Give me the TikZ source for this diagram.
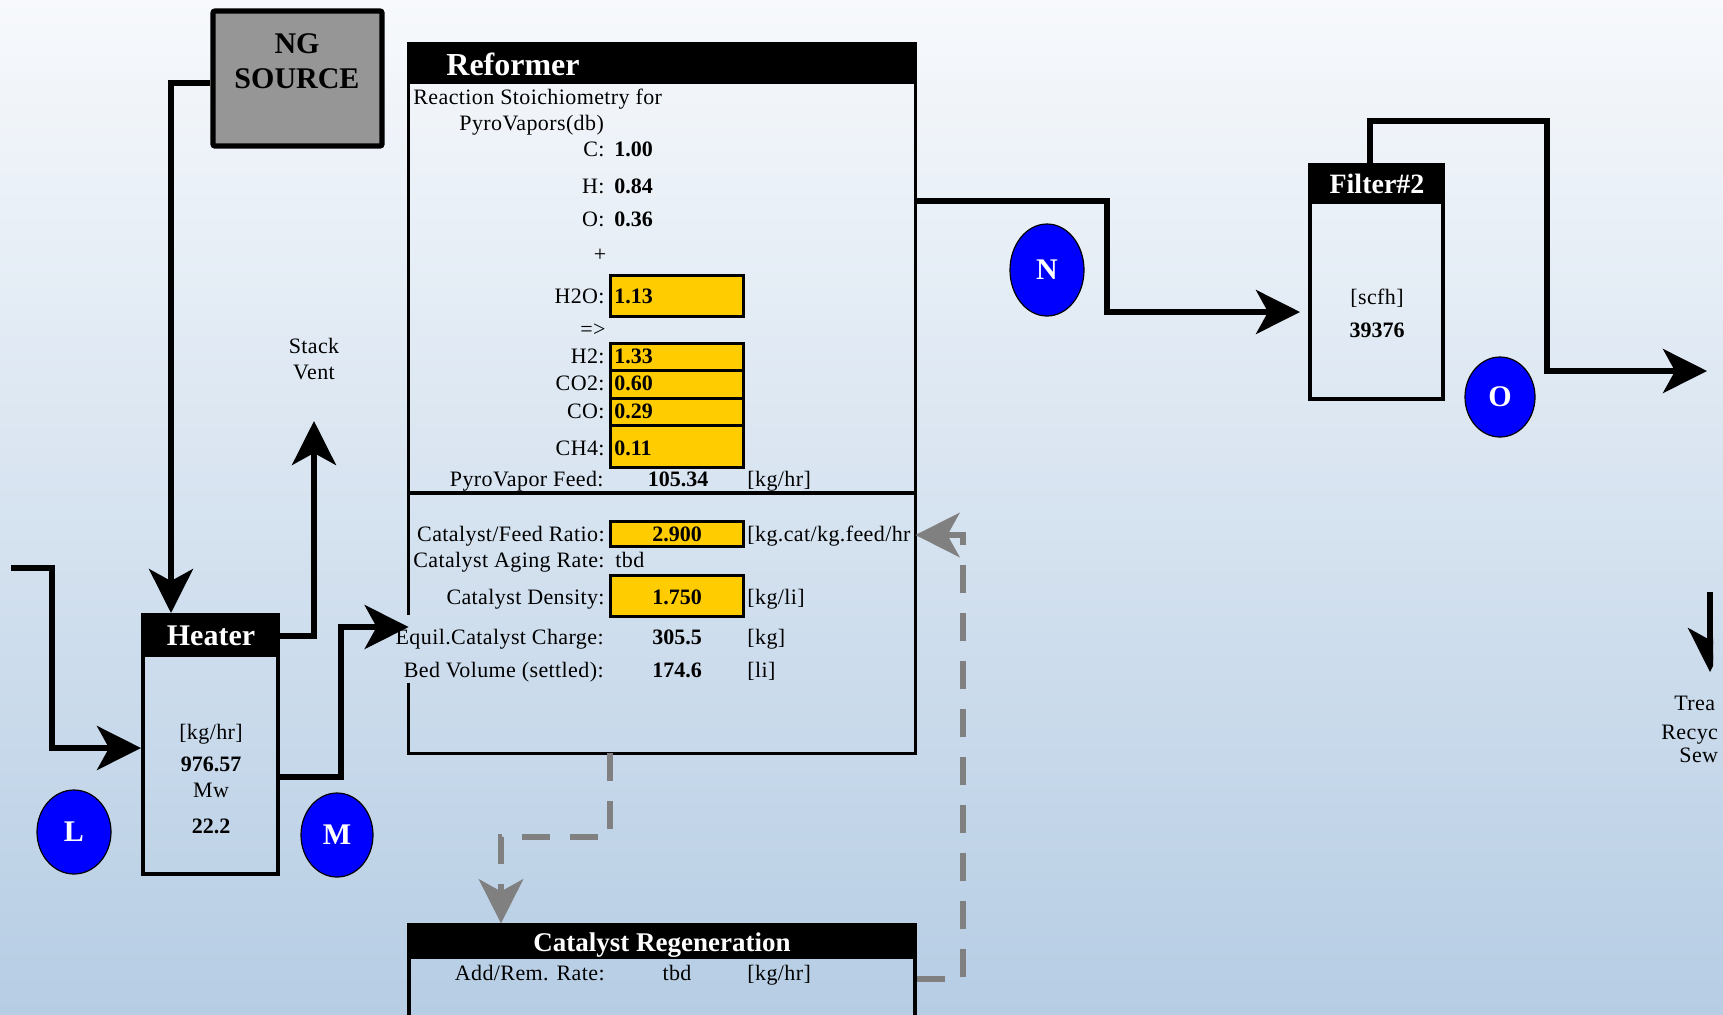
\documentclass[tikz,border=0pt]{standalone}
\usepackage{fontspec}
\setmainfont{Liberation Serif}
\newfontfamily\spacedserif[LetterSpace=1.8]{Liberation Serif}
\usepackage{xcolor}
\usepackage{tikz}
\usetikzlibrary{arrows.meta,fit,shapes.geometric}

\definecolor{bgtop}{HTML}{F7F9FC}
\definecolor{bgbottom}{HTML}{B6CDE4}
\definecolor{cellyellow}{HTML}{FFCC00}
\definecolor{nggrey}{HTML}{969696}
\definecolor{dashgrey}{HTML}{808080}
\definecolor{tagblue}{HTML}{0000FF}

\tikzset{
    flow/.style={line width=2.6pt, -{Stealth[length=22pt,width=22pt,inset=6pt]}},
    catflow/.style={draw=dashgrey, line width=3.4pt, dash pattern=on 14pt off 10pt,
        -{Stealth[length=22pt,width=22pt,inset=6pt]}},
    unit/.style={draw, line width=2pt, inner sep=0pt},
    header/.style={fill=black, inner sep=0pt},
    headtext/.style={text=white, inner sep=0pt, font=\fontsize{15}{15}\selectfont\bfseries},
    tag/.style={ellipse, draw, line width=0.6pt, fill=tagblue, text=white, inner sep=0pt,
        font=\fontsize{15}{15}\selectfont\bfseries},
    cell/.style={draw, fill=cellyellow, line width=1.5pt, inner sep=0pt},
    lbl/.style={inner sep=0pt, font=\fontsize{11}{13}\spacedserif},
    val/.style={inner sep=0pt, font=\fontsize{11}{13}\selectfont\bfseries},
}

\begin{document}
\begin{tikzpicture}[x=0.5pt,y=-0.5pt]
    \clip (0,0) rectangle (1723,1014);
    \shade[top color=bgtop, bottom color=bgbottom] (0,0) rectangle (1723,1014);

    % units
    \node [unit, fill=nggrey, line width=2.6pt, rounded corners=1pt, fit={(213,11) (382,146)}] (ng) {};
    \node [headtext, text=black, anchor=base] (ngname) at (297,53) {NG};
    \node [headtext, text=black, anchor=base] (ngsource) at (297,88) {SOURCE};

    \node [unit, fit={(143,615) (278,874)}] (heater) {};
    \node [header, fit={(143,615) (278,657)}] (heaterhead) {};
    \node [headtext, anchor=base] (heatertitle) at (211,645) {Heater};
    \node [lbl, anchor=base] (heaterunit) at (211,739) {[kg/hr]};
    \node [val, anchor=base] (heaterflow) at (211,771) {976.57};
    \node [lbl, anchor=base] (heatermw) at (211,797) {Mw};
    \node [val, anchor=base] (heatermwval) at (211,833) {22.2};

    \node [inner sep=0pt, fit={(409,44) (915,753)}] (reformer) {};
    \draw [line width=1.6pt] (reformer.west |- 0,615) -- (reformer.north west) -- (reformer.north east)
        -- (reformer.south east) -- (reformer.south west) -- (reformer.west |- 0,683);
    \node [header, fit={(409,44) (915,84)}] (reformerhead) {};
    \node [headtext, font=\fontsize{16}{16}\selectfont\bfseries, anchor=base west] (reformertitle) at (446,75) {Reformer};
    \draw [line width=1.6pt] (reformer.west |- 0,493) -- (reformer.east |- 0,493);

    \node [lbl, anchor=base west] (stoich) at (413,104) {Reaction Stoichiometry for};
    \node [lbl, anchor=base west] (pyro) at (459,130) {PyroVapors(db)};
    \node [lbl, anchor=base east] (cname) at (605,156) {C:};
    \node [val, anchor=base west] (cval) at (614,156) {1.00};
    \node [lbl, anchor=base east] (hname) at (605,193) {H:};
    \node [val, anchor=base west] (hval) at (614,193) {0.84};
    \node [lbl, anchor=base east] (oname) at (605,226) {O:};
    \node [val, anchor=base west] (oval) at (614,226) {0.36};
    \node [lbl, anchor=base] (plus) at (600,261) {+};

    \node [cell, fit={(610,275) (743,316)}] (h2ocell) {};
    \node [cell, fit={(610,343) (743,370)}] (h2cell) {};
    \node [cell, fit={(610,370) (743,398)}] (co2cell) {};
    \node [cell, fit={(610,398) (743,425)}] (cocell) {};
    \node [cell, fit={(610,425) (743,467)}] (ch4cell) {};

    \node [lbl, anchor=base east] (h2oname) at (605,303) {H2O:};
    \node [val, anchor=base west] (h2oval) at (614,303) {1.13};
    \node [lbl, anchor=base] (yields) at (593,336) {=>};
    \node [lbl, anchor=base east] (h2name) at (605,363) {H2:};
    \node [val, anchor=base west] (h2val) at (614,363) {1.33};
    \node [lbl, anchor=base east] (co2name) at (605,390) {CO2:};
    \node [val, anchor=base west] (co2val) at (614,390) {0.60};
    \node [lbl, anchor=base east] (coname) at (605,418) {CO:};
    \node [val, anchor=base west] (coval) at (614,418) {0.29};
    \node [lbl, anchor=base east] (ch4name) at (605,455) {CH4:};
    \node [val, anchor=base west] (ch4val) at (614,455) {0.11};

    \node [lbl, anchor=base east] (feedname) at (604,486) {PyroVapor Feed:};
    \node [val, anchor=base] (feedval) at (678,486) {105.34};
    \node [lbl, anchor=base west] (feedunit) at (747,486) {[kg/hr]};

    \node [cell, fit={(610,521) (743,546)}] (ratiocell) {};
    \node [cell, fit={(610,575) (743,616)}] (densitycell) {};
    \node [lbl, anchor=base east] (rationame) at (605,541) {Catalyst/Feed Ratio:};
    \node [val, anchor=base] (ratioval) at (677,541) {2.900};
    \node [lbl, anchor=base west] (ratiounit) at (747,541) {[kg.cat/kg.feed/hr};
    \node [lbl, anchor=base east] (agingname) at (605,567) {Catalyst Aging Rate:};
    \node [lbl, anchor=base west] (agingval) at (615,567) {tbd};
    \node [lbl, anchor=base east] (densityname) at (605,604) {Catalyst Density:};
    \node [val, anchor=base] (densityval) at (677,604) {1.750};
    \node [lbl, anchor=base west] (densityunit) at (747,604) {[kg/li]};
    \node [lbl, anchor=base east] (chargename) at (604,644) {Equil.Catalyst Charge:};
    \node [val, anchor=base] (chargeval) at (677,644) {305.5};
    \node [lbl, anchor=base west] (chargeunit) at (747,644) {[kg]};
    \node [lbl, anchor=base east] (bedname) at (604,677) {Bed Volume (settled):};
    \node [val, anchor=base] (bedval) at (677,677) {174.6};
    \node [lbl, anchor=base west] (bedunit) at (747,677) {[li]};

    \node [unit, line width=1.6pt, fit={(409,925) (915,1040)}] (regen) {};
    \node [header, fit={(409,925) (915,959)}] (regenhead) {};
    \node [headtext, font=\fontsize{13.5}{13.5}\selectfont\bfseries, anchor=base] (regentitle) at (662,951) {Catalyst Regeneration};
    \node [lbl, anchor=base east] (ratename) at (605,980) {Add/Rem. Rate:};
    \node [lbl, anchor=base] (rateval) at (677,980) {tbd};
    \node [lbl, anchor=base west] (rateunit) at (747,980) {[kg/hr]};

    \node [unit, fit={(1310,165) (1443,399)}] (filter) {};
    \node [header, fit={(1310,165) (1443,204)}] (filterhead) {};
    \node [headtext, font=\fontsize{14}{14}\selectfont\bfseries, anchor=base] (filtertitle) at (1377,193) {Filter\#2};
    \node [lbl, anchor=base] (filterunit) at (1377,304) {[scfh]};
    \node [val, anchor=base] (filterval) at (1377,337) {39376};

    \node [lbl, anchor=base] (stack) at (314,353) {Stack};
    \node [lbl, anchor=base] (vent) at (314,379) {Vent};

    \node [tag, minimum width=37pt, minimum height=42pt] (L) at (74,832) {L};
    \node [tag, minimum width=36pt, minimum height=42pt] (M) at (337,835) {M};
    \node [tag, minimum width=37pt, minimum height=46pt] (N) at (1047,270) {N};
    \node [tag, minimum width=35pt, minimum height=40pt] (O) at (1500,397) {O};

    \coordinate (feedin) at (11,568);
    \coordinate (venttip) at (314,421);
    \coordinate (filterout) at (1707,371);
    \coordinate (sewtop) at (1710,592);
    \coordinate (sewtip) at (1710,672);

    % streams
    \draw [flow] (ng.west |- 0,83) -| (heater.north -| 171,0);
    \draw [flow] (feedin) -| (52,748) -- (heater.west |- 0,748);
    \draw [flow] (heater.east |- 0,636) -| (venttip);
    \draw [flow] (heater.east |- 0,777) -| (341,627) -- (reformer.west |- 0,627);
    \draw [flow, shorten >=4pt] (reformer.east |- 0,201) -| (1107,312) -- (filter.west |- 0,312);
    \draw [flow] (filter.north -| 1370,0) |- (1547,121) |- (filterout);
    \begin{scope}
        \clip (0,0) rectangle (1713,1014);
        \draw [flow] (sewtop) -- (sewtip);
    \end{scope}

    \draw [catflow] (reformer.south -| 610,0) |- (501,837) -- (regen.north -| 501,0);
    \draw [catflow] (regen.east |- 0,979) -| (963,535) -- (reformer.east |- 0,535);

    \node [lbl, anchor=base west] (treat) at (1674,710) {Trea};
    \node [lbl, anchor=base west] (recyc) at (1661,739) {Recyc};
    \node [lbl, anchor=base west] (sew) at (1679,762) {Sew};
\end{tikzpicture}
\end{document}
